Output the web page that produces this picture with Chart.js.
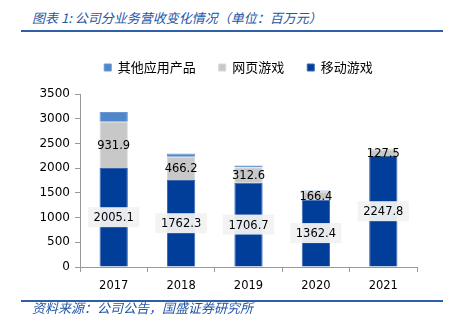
<!DOCTYPE html>
<html>
<head>
<meta charset="utf-8">
<script src="https://cdn.jsdelivr.net/npm/chart.js@4"></script>
<style>
body{margin:0;background:#fff}
#wrap{position:relative;width:460px;height:322px}
#chart{position:absolute;left:0;top:0}
.t{position:absolute;left:32px;font-family:"Noto Sans CJK SC",sans-serif;font-size:13px;font-style:italic;color:#2356a6;white-space:nowrap}
.ln{position:absolute;left:21px;width:422px;height:2px;background:#2f5fa6}
</style>
</head>
<body>
<div id="wrap">
<div class="t" style="top:8px">图表 1: 公司分业务营收变化情况（单位：百万元）</div>
<div class="ln" style="top:30px"></div>
<canvas id="chart" width="460" height="322"></canvas>
<div class="ln" style="top:300px"></div>
<div class="t" style="top:298px">资料来源：公司公告，国盛证券研究所</div>
</div>
<script>
var annees = ["2017","2018","2019","2020","2021"]
var mobile = [2005.1,1762.3,1706.7,1362.4,2247.8]
var web = [931.9,466.2,312.6,166.4,127.5]
var autres = [200,70,33,20,12]
var noms = ["移动游戏","网页游戏","其他应用产品"]

// etiquettes des valeurs + reglage legende
var etiq = {
	id:"etiq",
	afterInit(chart){
		// espace en plus sous la legende
		var f = chart.legend.fit
		chart.legend.fit = function(){
			f.call(this)
			this.height += 10
		}
	},
	afterLayout(chart){
		// legende un peu a droite
		chart.legend.left += 30
		chart.legend.right += 30
	},
	afterDatasetsDraw(chart){
		var ctx = chart.ctx
		ctx.save()
		ctx.font = "11.5px 'DejaVu Sans'"
		ctx.textAlign = "center"
		ctx.textBaseline = "middle"
		for(var d=0;d<2;d++){
			var meta = chart.getDatasetMeta(d)
			meta.data.forEach(function(b,i){
				var v = chart.data.datasets[d].data[i]
				var txt = v.toFixed(1)
				var y = (b.y+b.base)/2
				if(d==0){
					var w = ctx.measureText(txt).width+11
					ctx.fillStyle = "rgba(242,242,242,0.95)"
					ctx.fillRect(b.x-w/2,y-10,w,20)
				}
				ctx.fillStyle = "#000"
				ctx.fillText(txt,b.x,y+1)
			})
		}
		ctx.restore()
	}
}

new Chart("chart",{
	type:"bar",
	data:{
		labels:annees,
		datasets:[
			{label:noms[0],data:mobile,backgroundColor:"#003e99",borderColor:"#3a67b0",borderWidth:1},
			{label:noms[1],data:web,backgroundColor:"#c8c8c8",borderColor:"#d8d8d8",borderWidth:1},
			{label:noms[2],data:autres,backgroundColor:"#4f86cc",borderColor:"#6a98d4",borderWidth:1}
		]
	},
	options:{
		animation:false,
		responsive:false,
		layout:{padding:{top:38,right:43,bottom:25,left:0}},
		datasets:{bar:{barPercentage:0.42,categoryPercentage:1}},
		plugins:{
			legend:{
				reverse:true,
				labels:{
					boxWidth:7,boxHeight:7,padding:23,color:"#000",
					font:{family:"'Noto Sans CJK SC'",size:13}
				}
			},
			tooltip:{enabled:false}
		},
		scales:{
			x:{
				stacked:true,
				afterFit:function(s){s.height=30},
				grid:{offset:true,drawOnChartArea:false,tickLength:5,color:"#999"},
				border:{color:"#999"},
				ticks:{color:"#000",padding:7,font:{family:"'DejaVu Sans'",size:11.5}}
			},
			y:{
				stacked:true,min:0,max:3500,
				afterFit:function(s){s.width=80},
				grid:{drawOnChartArea:false,tickLength:5,color:"#999"},
				border:{color:"#999"},
				ticks:{stepSize:500,color:"#000",padding:5,font:{family:"'DejaVu Sans'",size:12},
					callback:function(v){return String(v)}}
			}
		}
	},
	plugins:[etiq]
})
</script>
</body>
</html>
